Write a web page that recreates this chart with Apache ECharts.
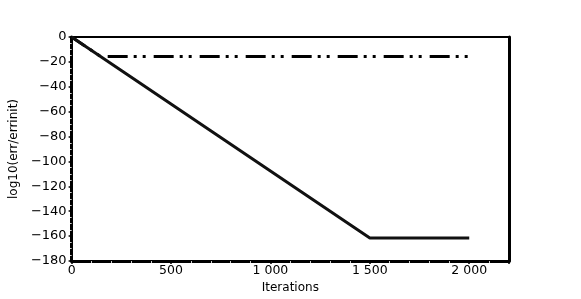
<!DOCTYPE html>
<html><head><meta charset="utf-8">
<script src="https://cdn.jsdelivr.net/npm/echarts@6/dist/echarts.min.js"></script>
<style>html,body{margin:0;padding:0;background:#fff}#c{width:581px;height:299px}</style>
</head><body><div id="c"></div>
<script>
// Data
var xTicks = [0, 500, 1000, 1500, 2000];
var yTicks = [0, -20, -40, -60, -80, -100, -120, -140, -160, -180];
var solidIter = [0, 1500, 2000];
var solidErr = [0, -161.5, -161.5];
var dashIter = [0, 146, 2000];
var dashErr = [0, -15.65, -15.65];

function pairs(xs, ys) { return xs.map(function (x, i) { return [x, ys[i]]; }); }
var font = 'DejaVu Sans';
var chart = echarts.init(document.getElementById('c'), null, {renderer: 'canvas'});
chart.setOption({
  animation: false,
  backgroundColor: '#fff',
  grid: {left: 71, right: 72, top: 37, bottom: 38, containLabel: false},
  xAxis: [{
    type: 'value', min: 0, max: 2200, interval: 500,
    name: 'Iterations', nameLocation: 'middle', nameGap: 19,
    nameTextStyle: {fontFamily: font, fontSize: 12, color: '#000'},
    axisLine: {show: true, onZero: false, lineStyle: {color: '#000', width: 3}},
    axisTick: {show: true, length: 3, inside: false, lineStyle: {color: '#000', width: 1.5}},
    minorTick: {show: true, splitNumber: 5, length: 2, lineStyle: {color: '#ccc', width: 1}},
    axisLabel: {fontFamily: font, fontSize: 12.5, color: '#000', margin: 3,
      formatter: function (v) { return xTicks.indexOf(v) < 0 ? '' : String(v).replace(/\B(?=(\d{3})+(?!\d))/g, ' '); }},
    splitLine: {show: false}
  }, {
    type: 'value', min: 0, max: 2200, position: 'top',
    axisLine: {show: true, onZero: false, lineStyle: {color: '#000', width: 2}},
    axisTick: {show: false}, axisLabel: {show: false}, splitLine: {show: false}
  }],
  yAxis: [{
    type: 'value', min: -180, max: 0, interval: 20,
    name: 'log10(err/errinit)', nameLocation: 'middle', nameGap: 45, nameRotate: 90,
    nameTextStyle: {fontFamily: font, fontSize: 12, color: '#000'},
    axisLine: {show: true, onZero: false, lineStyle: {color: '#000', width: 3}},
    axisTick: {show: true, length: 3, lineStyle: {color: '#000', width: 1.5}},
    minorTick: {show: true, splitNumber: 4, length: 1.5, lineStyle: {color: '#e4e4e4', width: 1}},
    axisLabel: {fontFamily: font, fontSize: 13, color: '#000', margin: 5,
      formatter: function (v) { return yTicks.indexOf(v) < 0 ? '' : (v < 0 ? '\u2212' + Math.abs(v) : String(v)); }},
    splitLine: {show: false}
  }, {
    type: 'value', min: -180, max: 0, position: 'right',
    axisLine: {show: true, onZero: false, lineStyle: {color: '#000', width: 3}},
    axisTick: {show: false}, axisLabel: {show: false}, splitLine: {show: false}
  }],
  series: [{
    type: 'line', data: pairs(dashIter, dashErr), symbol: 'none',
    lineStyle: {color: '#000', width: 3, type: [20, 6, 3, 6, 3, 8], dashOffset: 4, cap: 'butt'}
  }, {
    type: 'line', data: pairs(solidIter, solidErr), symbol: 'none',
    lineStyle: {color: '#111', width: 3}
  }]
});
</script></body></html>
